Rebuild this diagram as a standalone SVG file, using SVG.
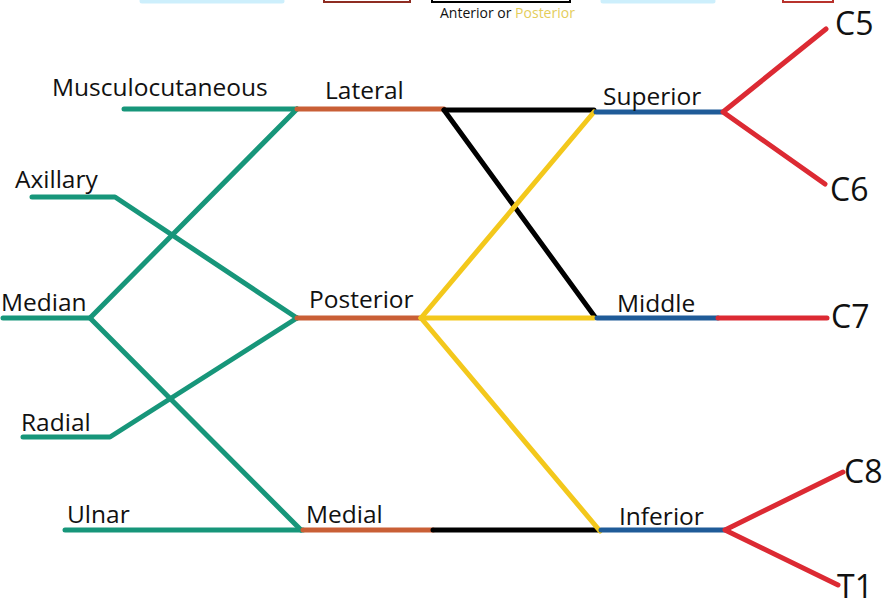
<svg xmlns="http://www.w3.org/2000/svg" width="894" height="606" viewBox="0 0 894 606">
<style>
  text { font-family: "Open Sans", "Noto Sans", "DejaVu Sans", sans-serif; fill: #111; }
  .lbl { font-size: 24.5px; }
  .root { font-size: 32px; }
  .leg { font-size: 14px; }
  line, polyline { fill: none; stroke-width: 5; stroke-linecap: round; stroke-linejoin: round; }
  .g { stroke: #17967a; }
  .o { stroke: #c95f36; }
  .k { stroke: #000; }
  .y { stroke: #f3c81c; }
  .b { stroke: #1f5b98; }
  .r { stroke: #dc2a33; }
</style>
<rect width="894" height="606" fill="#fff"/>

<g id="legend">
  <line x1="142" y1="1" x2="282" y2="1" stroke="#cdeffc" stroke-width="3"/>
  <rect x="324" y="-20" width="86" height="22" fill="none" stroke="#8e2c22" stroke-width="2"/>
  <rect x="432" y="-20" width="138" height="22" fill="none" stroke="#000" stroke-width="2"/>
  <line x1="603" y1="1" x2="713" y2="1" stroke="#cdeffc" stroke-width="3"/>
  <rect x="783" y="-20" width="50" height="22" fill="none" stroke="#b8322c" stroke-width="2"/>
  <text class="leg" x="440" y="18">Anterior or <tspan fill="#e4cd5a">Posterior</tspan></text>
</g>

<g id="connectors">
  <line class="g" x1="124" y1="109" x2="297" y2="109"/>
  <polyline class="g" points="32,197 115,197 297,318"/>
  <polyline class="g" points="297,109 90,318 3,318"/>
  <line class="g" x1="90" y1="318" x2="301" y2="530"/>
  <polyline class="g" points="23,437 110,437 297,318"/>
  <line class="g" x1="65" y1="530" x2="303" y2="530"/>
  <line class="o" x1="297" y1="109" x2="444" y2="109"/>
  <line class="o" x1="297" y1="318" x2="421" y2="318"/>
  <line class="o" x1="303" y1="530" x2="433" y2="530"/>
  <line class="k" x1="444" y1="110" x2="594" y2="110"/>
  <line class="k" x1="444" y1="110" x2="595" y2="317"/>
  <line class="k" x1="433" y1="530" x2="598" y2="530"/>
  <line class="y" x1="594" y1="112" x2="421" y2="318"/>
  <line class="y" x1="421" y1="318" x2="594" y2="318"/>
  <line class="y" x1="421" y1="318" x2="600" y2="531"/>
  <line class="b" x1="596" y1="112" x2="722" y2="112"/>
  <line class="b" x1="597" y1="318" x2="718" y2="318"/>
  <line class="b" x1="601" y1="530" x2="725" y2="530"/>
  <polyline class="r" points="826,29 723,112 825,184"/>
  <line class="r" x1="718" y1="318" x2="827" y2="318"/>
  <polyline class="r" points="843,472 725,530 838,585"/>
</g>

<g id="node-musculocutaneous"><text class="lbl" x="52" y="96">Musculocutaneous</text></g>
<g id="node-axillary"><text class="lbl" x="15" y="188">Axillary</text></g>
<g id="node-median"><text class="lbl" x="1" y="311">Median</text></g>
<g id="node-radial"><text class="lbl" x="21" y="431">Radial</text></g>
<g id="node-ulnar"><text class="lbl" x="67" y="523">Ulnar</text></g>
<g id="node-lateral"><text class="lbl" x="325" y="99">Lateral</text></g>
<g id="node-posterior"><text class="lbl" x="309" y="308">Posterior</text></g>
<g id="node-medial"><text class="lbl" x="306" y="523">Medial</text></g>
<g id="node-superior"><text class="lbl" x="603" y="105">Superior</text></g>
<g id="node-middle"><text class="lbl" x="617" y="312">Middle</text></g>
<g id="node-inferior"><text class="lbl" x="619" y="525">Inferior</text></g>
<g id="node-c5"><text class="root" x="835" y="35">C5</text></g>
<g id="node-c6"><text class="root" x="830" y="201">C6</text></g>
<g id="node-c7"><text class="root" x="831" y="328">C7</text></g>
<g id="node-c8"><text class="root" x="844" y="483">C8</text></g>
<g id="node-t1"><text class="root" x="837" y="598">T1</text></g>
</svg>
